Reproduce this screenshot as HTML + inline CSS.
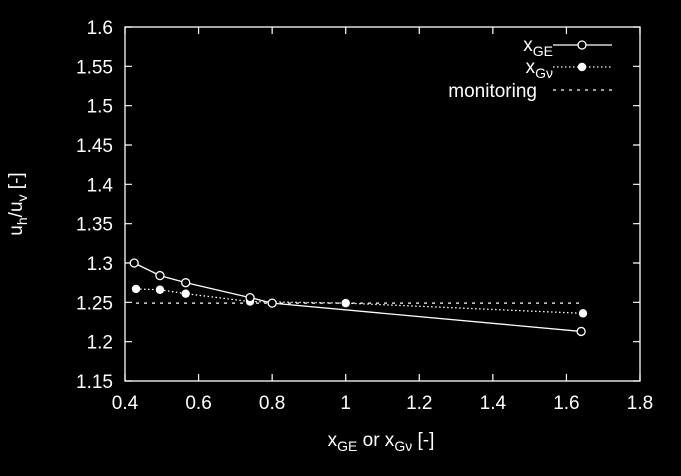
<!DOCTYPE html>
<html><head><meta charset="utf-8"><style>
html,body{margin:0;padding:0;background:#000;}
svg{display:block;font-family:"Liberation Sans",sans-serif;}
</style></head><body>
<svg id="chart" width="681" height="476" xmlns="http://www.w3.org/2000/svg">
<rect width="681" height="476" fill="#000"/>
<g id="axes"></g>
<g id="series"></g>
<g id="legend" fill="#fff" font-size="19">
  <text x="553" y="51" text-anchor="end">x<tspan font-size="14" dy="5">GE</tspan></text>
  <line x1="553" y1="45" x2="612" y2="45" stroke="#fff" stroke-width="1.3"/>
  <circle cx="582" cy="45" r="4" fill="#000" stroke="#fff" stroke-width="1.3"/>
  <text x="553" y="73" text-anchor="end">x<tspan font-size="14" dy="5">Gν</tspan></text>
  <line x1="553" y1="67" x2="612" y2="67" stroke="#fff" stroke-width="1.3" stroke-dasharray="1.5,2.5"/>
  <circle cx="582" cy="67" r="4.2" fill="#fff"/>
  <text x="537" y="97" text-anchor="end">monitoring</text>
  <line x1="553" y1="90" x2="612" y2="90" stroke="#fff" stroke-width="1.3" stroke-dasharray="3,5"/>
</g>
<text x="381" y="446" fill="#fff" font-size="19" text-anchor="middle">x<tspan font-size="14" dy="5">GE</tspan><tspan dy="-5"> or x</tspan><tspan font-size="14" dy="5">Gν</tspan><tspan dy="-5"> [-]</tspan></text>
<text transform="translate(22,204) rotate(-90)" fill="#fff" font-size="19" text-anchor="middle">u<tspan font-size="14" dy="5">h</tspan><tspan dy="-5">/u</tspan><tspan font-size="14" dy="5">v</tspan><tspan dy="-5"> [-]</tspan></text>
</svg>
<script>
const xTicks=[0.4,0.6,0.8,1,1.2,1.4,1.6,1.8];
const yTicks=[1.15,1.2,1.25,1.3,1.35,1.4,1.45,1.5,1.55,1.6];
const xgeX=[0.425,0.495,0.565,0.74,0.8,1.64];
const xgeY=[1.3,1.284,1.275,1.256,1.249,1.213];
const xgvX=[0.43,0.495,0.565,0.74,1.0,1.645];
const xgvY=[1.267,1.266,1.261,1.251,1.249,1.236];
const monX=[0.43,1.645];
const monY=[1.249,1.249];
const L=125,R=640,T=27,B=381;
const sx=v=>L+(v-0.4)/(1.4)*(R-L);
const sy=v=>B-(v-1.15)/(0.45)*(B-T);
const NS="http://www.w3.org/2000/svg";
function mk(tag,attrs,parent){const e=document.createElementNS(NS,tag);for(const k in attrs)e.setAttribute(k,attrs[k]);parent.appendChild(e);return e;}
const axes=document.getElementById('axes');
const frame=mk('rect',{x:L,y:T,width:R-L,height:B-T,fill:'none',stroke:'#fff','stroke-width':1.3},axes);


xTicks.forEach(v=>{
  const t=mk('path',{d:`M${sx(v)},${B}v-7M${sx(v)},${T}v7`,stroke:'#fff','stroke-width':1.2},axes);
  
  
  const l=mk('text',{x:sx(v),y:B+28,fill:'#fff','font-size':19,'text-anchor':'middle'},axes);
  l.textContent=String(v);
  
  
});
yTicks.forEach(v=>{
  const t=mk('path',{d:`M${L},${sy(v)}h7M${R},${sy(v)}h-7`,stroke:'#fff','stroke-width':1.2},axes);
  
  
  const l=mk('text',{x:L-12,y:sy(v)+7,fill:'#fff','font-size':19,'text-anchor':'end'},axes);
  l.textContent=String(v);
  
  
});
const g=document.getElementById('series');
function line(xs,ys,dash,name){
  const p=mk('polyline',{points:xs.map((x,i)=>sx(x)+','+sy(ys[i])).join(' '),fill:'none',stroke:'#fff','stroke-width':1.3},g);
  if(dash)p.setAttribute('stroke-dasharray',dash);
  
  
}
line(monX,monY,'3,5','monitoring-line');
line(xgvX,xgvY,'1.5,2.5','xgv-line');
line(xgeX,xgeY,null,'xge-line');
xgvX.forEach((x,i)=>{
  const c=mk('circle',{cx:sx(x),cy:sy(xgvY[i]),r:4.2,fill:'#fff'},g);
  
  
});
xgeX.forEach((x,i)=>{
  const c=mk('circle',{cx:sx(x),cy:sy(xgeY[i]),r:4,fill:'#000',stroke:'#fff','stroke-width':1.3},g);
  
  
});
</script>
</body></html>
